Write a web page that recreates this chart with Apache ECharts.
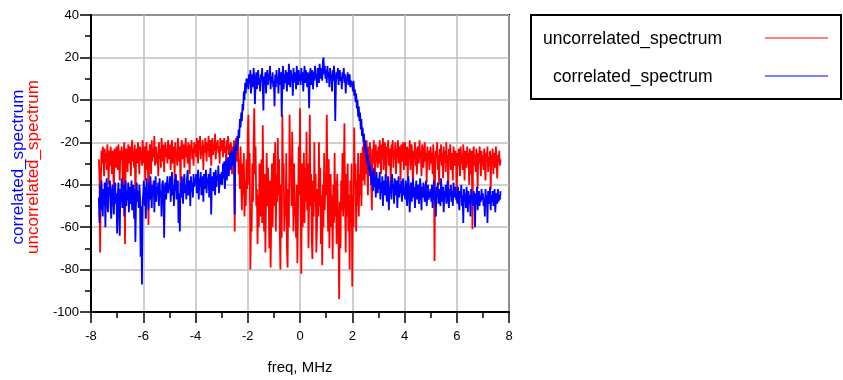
<!DOCTYPE html>
<html>
<head>
<meta charset="utf-8">
<script src="https://cdn.jsdelivr.net/npm/echarts@6/dist/echarts.min.js"></script>
<style>html,body{margin:0;padding:0;background:#fff;overflow:hidden}#c{width:843px;height:380px}</style>
</head>
<body>
<div id="c"></div>
<script>
// Frequency grid (MHz): first sample and spacing
var FREQ_START = -7.7;
var FREQ_STEP = 0.025;

var X_TICKS = [-8, -6, -4, -2, 0, 2, 4, 6, 8];
var Y_TICKS = [-100, -80, -60, -40, -20, 0, 20, 40];

var SERIES_NAMES = ['uncorrelated_spectrum', 'correlated_spectrum'];

// uncorrelated_spectrum (dB), one value per frequency sample
var uncorrelated = [
  // -7.700 .. -7.025
  -28, -35, -72, -40, -24, -30, -22, -27, -36, -23, -29, -25, -33, -21, -28, -40, -24, -31, -22, -26, -35, -24, -29, -46, -23, -27, -32, -22,
  // -7.000 .. -6.025
  -26, -33, -21, -29, -38, -24, -28, -22, -31, -45, -25, -20, -68, -30, -23, -27, -34, -21, -26, -30,
  -22, -36, -25, -19, -29, -24, -32, -21, -50, -27, -23, -30, -20, -26, -35, -22, -28, -24, -31, -19,
  // -6.000 .. -5.025
  -25, -30, -22, -38, -27, -20, -33, -24, -59, -28, -21, -26, -35, -19, -29, -23, -27, -17, -31, -24,
  -22, -30, -25, -36, -20, -28, -23, -32, -18, -26, -29, -21, -34, -24, -20, -27, -23, -30, -19, -25,
  // -5.000 .. -4.025
  -28, -21, -33, -24, -19, -30, -26, -22, -37, -20, -27, -24, -31, -18, -25, -29, -22, -40, -23, -19,
  -28, -25, -21, -32, -24, -18, -27, -22, -30, -20, -26, -35, -21, -24, -19, -28, -23, -31, -20, -25,
  // -4.000 .. -3.025
  -21, -27, -18, -24, -30, -19, -23, -17, -28, -22, -26, -19, -33, -21, -25, -18, -23, -29, -20, -24,
  -17, -27, -22, -19, -31, -23, -18, -26, -21, -24, -16, -28, -20, -23, -19, -25, -22, -30, -18, -21,
  // -3.000 .. -2.025
  -24, -19, -27, -21, -18, -25, -22, -30, -19, -23, -17, -26, -21, -28, -20, -24, -35, -22, -27, -19,
  -62, -23, -18, -29, -25, -20, -35, -28, -42, -22, -40, -52, -30, -45, -25, -55, -38, -50, -28, -42,
  // -2.000 .. -1.025
  -15, -7, -40, -25, -80, -55, -62, -30, -48, -20, -4, -35, -22, -50, -42, -68, -45, -60, -30, -38,
  -55, -28, -58, -12, -40, -62, -35, -72, -48, -25, -50, -32, -45, -70, -38, -79, -55, -30, -60, -42,
  // -1.000 .. -0.025
  -25, -50, -20, -62, -35, -48, -18, -45, -28, -60, -80, -40, -65, -7, -38, -30, -62, -45, -55, -25,
  -70, -79, -42, -60, -7, -35, -28, -50, -15, -40, -62, -30, -55, -48, -65, -40, -77, -52, -22, -45,
  // 0.000 .. 0.975
  -4, -45, -82, -30, -60, -40, -25, -58, -32, -48, -15, -52, -30, -70, -45, -7, -50, -35, -66, -75,
  -38, -55, -20, -48, -35, -72, -60, -42, -55, -20, -50, -32, -68, -45, -78, -40, -60, -25, -52, -35,
  // 1.000 .. 1.975
  -45, -7, -40, -62, -28, -70, -50, -35, -60, -45, -75, -40, -58, -25, -55, -38, -68, -35, -50, -65,
  -94, -48, -70, -38, -52, -25, -55, -40, -11, -48, -72, -35, -55, -30, -62, -45, -80, -38, -58, -30,
  // 2.000 .. 2.975
  -88, -45, -60, -13, -40, -30, -62, -38, -50, -25, -55, -35, -45, -25, -50, -32, -22, -38, -18, -40,
  -24, -35, -19, -28, -45, -22, -33, -20, -26, -38, -52, -23, -30, -19, -27, -36, -21, -29, -24, -32,
  // 3.000 .. 3.975
  -22, -30, -19, -26, -35, -21, -28, -18, -33, -24, -20, -29, -37, -22, -25, -19, -31, -23, -27, -40,
  -21, -26, -19, -32, -24, -28, -20, -35, -23, -27, -19, -30, -22, -25, -38, -21, -29, -24, -20, -33,
  // 4.000 .. 4.975
  -24, -20, -31, -26, -22, -38, -23, -28, -19, -33, -25, -21, -29, -42, -24, -27, -20, -31, -23, -35,
  -22, -26, -30, -19, -28, -24, -36, -21, -27, -32, -23, -20, -29, -25, -39, -22, -28, -24, -33, -26,
  // 5.000 .. 5.975
  -22, -30, -25, -35, -21, -28, -76, -32, -24, -27, -20, -33, -26, -40, -23, -29, -21, -31, -25, -37,
  -22, -28, -24, -34, -20, -30, -26, -45, -23, -28, -21, -33, -25, -29, -38, -22, -27, -31, -24, -30,
  // 6.000 .. 6.975
  -48, -25, -31, -23, -28, -36, -22, -30, -26, -33, -21, -29, -38, -24, -27, -32, -22, -30, -25, -40,
  -23, -28, -35, -24, -61, -27, -22, -31, -26, -34, -23, -29, -42, -25, -30, -22, -28, -36, -24, -31,
  // 7.000 .. 7.675
  -26, -33, -23, -30, -38, -25, -28, -22, -34, -27, -31, -24, -42, -26, -29, -23, -35, -28, -25, -32, -22, -30, -37, -26, -29, -24, -31, -28
];

// correlated_spectrum (dB), one value per frequency sample
var correlated = [
  // -7.700 .. -7.025
  -46, -58, -40, -52, -38, -47, -55, -42, -50, -39, -60, -44, -37, -48, -53, -41, -45, -38, -50, -56, -43, -40, -47, -54, -42, -39, -49, -44,
  // -7.000 .. -6.025
  -63, -45, -39, -52, -64, -42, -48, -37, -51, -44, -40, -55, -46, -38, -50, -43, -47, -39, -53, -41,
  -45, -49, -38, -52, -44, -40, -56, -42, -67, -46, -39, -48, -43, -51, -40, -45, -74, -50, -87, -48,
  // -6.000 .. -5.025
  -44, -38, -50, -41, -56, -37, -46, -43, -52, -39, -47, -36, -44, -51, -40, -45, -38, -53, -42, -36,
  -48, -41, -44, -39, -50, -37, -46, -43, -55, -40, -38, -45, -65, -42, -39, -47, -41, -36, -44, -40,
  // -5.000 .. -4.025
  -42, -36, -48, -39, -34, -45, -40, -50, -37, -43, -35, -47, -41, -38, -58, -44, -62, -39, -46, -36,
  -42, -49, -38, -35, -44, -40, -47, -37, -33, -45, -41, -38, -50, -36, -43, -39, -46, -35, -41, -37,
  // -4.000 .. -3.025
  -40, -35, -44, -38, -33, -47, -37, -41, -34, -45, -39, -36, -48, -35, -42, -38, -33, -44, -37, -40,
  -35, -46, -38, -32, -54, -40, -36, -43, -34, -39, -45, -33, -41, -36, -38, -31, -44, -37, -35, -40,
  // -3.000 .. -2.025
  -34, -40, -30, -37, -29, -42, -33, -28, -38, -31, -27, -36, -30, -25, -33, -28, -24, -31, -26, -22,
  -54, -27, -20, -24, -17, -21, -14, -18, -9, -13, -6, -10, -2, -5, 4, 0, 8, 3, 10, 6,
  // -2.000 .. -1.025
  10, 5, 12, 8, 14, 3, 9, 12, 6, 15, 10, -2, 8, 13, 5, 11, 14, 7, 10, 4,
  12, 9, 15, 6, -5, 11, 8, 13, 3, 10, 14, 7, 12, 9, 16, 5, 11, 8, 13, 6,
  // -1.000 .. -0.025
  9, -3, 12, 6, 14, 8, 11, 3, 15, 10, 7, 13, -8, 9, 16, 5, 12, 8, 14, 10,
  4, 13, 7, 17, 11, 6, 14, 9, 12, 2, 15, 8, 11, 13, 5, 16, 10, 7, 14, 9,
  // 0.000 .. 0.975
  12, 7, 15, 9, 13, 4, 11, 16, 8, 14, 10, 6, 13, 9, -4, 12, 15, 7, 11, 14,
  5, 13, 9, 16, 10, 12, 6, 15, 11, 8, 17, 13, 10, 15, 9, 18, 20, 12, 16, 10,
  // 1.000 .. 1.975
  14, 8, 16, 11, 13, 6, 15, 10, 12, 4, 14, 9, 16, 11, -10, 8, 13, 10, 15, 7,
  12, 14, 9, 11, 5, 13, 10, 15, 8, 12, 3, 11, 9, 13, 7, 10, 12, 6, 9, 8,
  // 2.000 .. 2.975
  7, 4, 9, 2, 5, -1, 3, -4, 0, -8, -3, -10, -6, -14, -9, -17, -13, -20, -16, -24,
  -19, -27, -23, -30, -26, -33, -29, -36, -31, -40, -34, -38, -43, -32, -41, -36, -46, -34, -39, -44,
  // 3.000 .. 3.975
  -37, -42, -34, -47, -39, -44, -36, -50, -41, -38, -45, -35, -43, -48, -39, -36, -52, -41, -44, -38,
  -47, -35, -42, -40, -49, -37, -45, -41, -38, -51, -43, -36, -46, -40, -44, -38, -48, -42, -37, -45,
  // 4.000 .. 4.975
  -41, -47, -38, -44, -50, -40, -36, -45, -53, -42, -39, -48, -43, -37, -46, -41, -51, -44, -38, -47,
  -42, -40, -49, -45, -37, -43, -52, -41, -46, -39, -44, -48, -42, -38, -50, -45, -40, -47, -43, -46,
  // 5.000 .. 5.975
  -42, -48, -40, -51, -44, -38, -47, -43, -55, -41, -46, -39, -49, -44, -42, -50, -37, -45, -48, -41,
  -53, -43, -46, -40, -49, -44, -38, -47, -51, -42, -45, -40, -48, -43, -50, -39, -46, -44, -41, -47,
  // 6.000 .. 6.975
  -44, -49, -41, -47, -52, -43, -46, -40, -50, -45, -58, -42, -48, -44, -51, -41, -47, -53, -43, -49,
  -45, -55, -42, -48, -46, -50, -43, -47, -60, -44, -49, -41, -52, -46, -43, -50, -45, -48, -42, -47,
  // 7.000 .. 7.675
  -44, -50, -46, -55, -42, -48, -45, -58, -43, -49, -47, -41, -52, -45, -48, -43, -50, -46, -42, -53, -47, -44, -49, -42, -48, -45, -47, -43
];

function pairs(vals) {
  return vals.map(function (v, i) {
    return [Math.round((FREQ_START + i * FREQ_STEP) * 1000) / 1000, v];
  });
}

var FONT = '"Liberation Sans", Arial, sans-serif';
var chart = echarts.init(document.getElementById('c'), null, {renderer: 'canvas', width: 843, height: 380});
chart.setOption({
  animation: false,
  backgroundColor: '#ffffff',
  grid: {
    left: 91, right: 334, top: 15, bottom: 65,
    show: true, borderColor: '#000', borderWidth: 2, backgroundColor: 'transparent'
  },
  xAxis: {
    type: 'value',
    min: X_TICKS[0], max: X_TICKS[X_TICKS.length - 1], interval: 2,
    name: 'freq, MHz', nameLocation: 'middle', nameGap: 48,
    nameTextStyle: {fontFamily: FONT, fontSize: 15, color: '#000'},
    axisLine: {onZero: false, lineStyle: {color: '#000', width: 2}},
    axisTick: {inside: false, length: 11, lineStyle: {color: '#000', width: 1.5}},
    minorTick: {show: true, splitNumber: 2, length: 6, lineStyle: {color: '#000', width: 1.5}},
    axisLabel: {fontFamily: FONT, fontSize: 13, color: '#000', margin: 18},
    splitLine: {show: true, lineStyle: {color: '#c0c0c0', width: 1.5}}
  },
  yAxis: {
    type: 'value',
    min: Y_TICKS[0], max: Y_TICKS[Y_TICKS.length - 1], interval: 20,
    axisLine: {onZero: false, lineStyle: {color: '#000', width: 2}},
    axisTick: {inside: false, length: 11, lineStyle: {color: '#000', width: 1.5}},
    minorTick: {show: true, splitNumber: 2, length: 6, lineStyle: {color: '#000', width: 1.5}},
    axisLabel: {fontFamily: FONT, fontSize: 13, color: '#000', margin: 12},
    splitLine: {show: true, lineStyle: {color: '#c0c0c0', width: 1.5}}
  },
  series: [
    {
      name: SERIES_NAMES[0], type: 'line', data: pairs(uncorrelated),
      showSymbol: false, symbol: 'none', lineStyle: {color: '#ff0000', width: 1.8},
      itemStyle: {color: '#ff0000'}, z: 2
    },
    {
      name: SERIES_NAMES[1], type: 'line', data: pairs(correlated),
      showSymbol: false, symbol: 'none', lineStyle: {color: '#0000ff', width: 1.8},
      itemStyle: {color: '#0000ff'}, z: 3
    }
  ],
  graphic: [
    {type: 'text', x: 18, y: 167, rotation: Math.PI / 2,
     style: {text: 'correlated_spectrum', fill: '#0000ff', font: '17px ' + FONT, textAlign: 'center', textVerticalAlign: 'middle'}},
    {type: 'text', x: 33, y: 167, rotation: Math.PI / 2,
     style: {text: 'uncorrelated_spectrum', fill: '#ff0000', font: '17px ' + FONT, textAlign: 'center', textVerticalAlign: 'middle'}},
    {type: 'rect', shape: {x: 531, y: 15, width: 310, height: 84},
     style: {fill: 'none', stroke: '#000', lineWidth: 2}},
    {type: 'text', x: 543, y: 39,
     style: {text: SERIES_NAMES[0], fill: '#000', font: '17.5px ' + FONT, textAlign: 'left', textVerticalAlign: 'middle'}},
    {type: 'text', x: 553, y: 77,
     style: {text: SERIES_NAMES[1], fill: '#000', font: '17.5px ' + FONT, textAlign: 'left', textVerticalAlign: 'middle'}},
    {type: 'line', shape: {x1: 765, y1: 38, x2: 828, y2: 38}, style: {stroke: '#ff0000', lineWidth: 1}},
    {type: 'line', shape: {x1: 765, y1: 76, x2: 828, y2: 76}, style: {stroke: '#0000ff', lineWidth: 1}}
  ]
});
</script>
</body>
</html>
